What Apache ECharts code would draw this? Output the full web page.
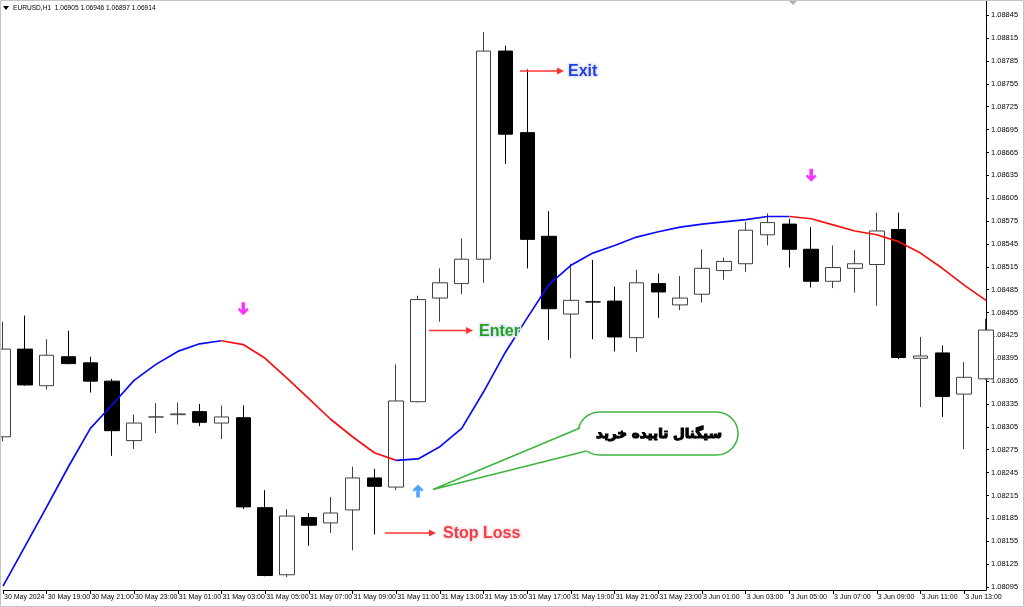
<!DOCTYPE html>
<html><head><meta charset="utf-8">
<script src="https://cdn.jsdelivr.net/npm/echarts@6/dist/echarts.min.js"></script>
<style>html,body{margin:0;padding:0;background:#fff}#c{width:1024px;height:607px}</style>
</head><body><div id="c"></div>
<script>
const categories = [
 '30 May 2024','30 May 18:00','30 May 19:00','30 May 20:00','30 May 21:00','30 May 22:00','30 May 23:00',
 '31 May 00:00','31 May 01:00','31 May 02:00','31 May 03:00','31 May 04:00','31 May 05:00','31 May 06:00',
 '31 May 07:00','31 May 08:00','31 May 09:00','31 May 10:00','31 May 11:00','31 May 12:00','31 May 13:00',
 '31 May 14:00','31 May 15:00','31 May 16:00','31 May 17:00','31 May 18:00','31 May 19:00','31 May 20:00',
 '31 May 21:00','31 May 22:00','31 May 23:00',
 '3 Jun 00:00','3 Jun 01:00','3 Jun 02:00','3 Jun 03:00','3 Jun 04:00','3 Jun 05:00','3 Jun 06:00',
 '3 Jun 07:00','3 Jun 08:00','3 Jun 09:00','3 Jun 10:00','3 Jun 11:00','3 Jun 12:00','3 Jun 13:00','3 Jun 14:00'
];
const opens  = [1.08292,1.08407,1.08359,1.08397,1.08389,1.08365,1.08287,1.08318,1.08321,1.08325,1.08310,1.08317,1.08199,1.08111,1.08186,1.08179,1.08196,1.08238,1.08226,1.08338,1.08474,1.08493,1.08525,1.08798,1.08691,1.08555,1.08453,1.08469,1.08470,1.08422,1.08493,1.08465,1.08479,1.08510,1.08519,1.08557,1.08571,1.08538,1.08496,1.08513,1.08518,1.08564,1.08395,1.08402,1.08348,1.08368];
const closes = [1.08407,1.08360,1.08399,1.08388,1.08365,1.08300,1.08310,1.08318,1.08322,1.08311,1.08318,1.08200,1.08110,1.08188,1.08176,1.08192,1.08238,1.08227,1.08339,1.08472,1.08494,1.08525,1.08798,1.08689,1.08551,1.08460,1.08471,1.08469,1.08423,1.08494,1.08482,1.08474,1.08513,1.08522,1.08563,1.08573,1.08538,1.08496,1.08514,1.08519,1.08562,1.08396,1.08398,1.08345,1.08370,1.08432];
const lows   = [1.08286,1.08359,1.08354,1.08387,1.08350,1.08267,1.08276,1.08297,1.08308,1.08306,1.08289,1.08197,1.08109,1.08108,1.08149,1.08166,1.08143,1.08164,1.08222,1.08337,1.08443,1.08479,1.08494,1.08650,1.08513,1.08419,1.08395,1.08420,1.08404,1.08403,1.08448,1.08458,1.08468,1.08498,1.08508,1.08543,1.08514,1.08488,1.08487,1.08481,1.08464,1.08394,1.08331,1.08318,1.08276,1.08367];
const highs  = [1.08443,1.08451,1.08420,1.08431,1.08397,1.08368,1.08321,1.08336,1.08337,1.08335,1.08333,1.08333,1.08222,1.08197,1.08192,1.08213,1.08253,1.08250,1.08387,1.08477,1.08513,1.08552,1.08823,1.08805,1.08774,1.08588,1.08519,1.08524,1.08489,1.08511,1.08506,1.08503,1.08538,1.08527,1.08574,1.08585,1.08578,1.08567,1.08543,1.08537,1.08586,1.08586,1.08423,1.08412,1.08390,1.08447];
const maValues = [1.08096,1.08148,1.08200,1.08253,1.08303,1.08334,1.08366,1.08387,1.08404,1.08414,1.08418,1.08413,1.08395,1.08369,1.08342,1.08315,1.08292,1.08271,1.08261,1.08263,1.08279,1.08303,1.08351,1.08403,1.08448,1.08492,1.08517,1.08533,1.08543,1.08554,1.08561,1.08567,1.08571,1.08574,1.08577,1.08581,1.08581,1.08578,1.08570,1.08562,1.08557,1.08548,1.08533,1.08513,1.08491,1.08471];
const maTurns = [0,10,18,36,45];
const maTrend = ['up','down','up','down'];
const buySignals  = [[19,1.08221]];
const sellSignals = [[11,1.08460],[37,1.08635]];
const yTicks = [1.08095,1.08125,1.08155,1.08185,1.08215,1.08245,1.08275,1.08305,1.08335,1.08365,1.08395,1.08425,1.08455,1.08485,1.08515,1.08545,1.08575,1.08605,1.08635,1.08665,1.08695,1.08725,1.08755,1.08785,1.08815,1.08845];
const titleText = 'EURUSD,H1  1.06905 1.06946 1.06897 1.06914';
const bubbleText = 'سیگنال تاییده خرید';

function segmentData(trend){
  return maValues.map((v,i)=>{
    for(let s=0;s<maTrend.length;s++){
      if(maTrend[s]===trend && i>=maTurns[s] && i<=maTurns[s+1]) return v;
    }
    return null;
  });
}
const candleData = categories.map((_,i)=>[opens[i],closes[i],lows[i],highs[i]]);
const arrowPath = 'path://M3.7,0 L7.3,0 L7.3,7.5 L9.3,5.5 L11,7.3 L5.5,12.8 L0,7.3 L1.7,5.5 L3.7,7.5 Z';
const FONT = '"Liberation Sans", Arial, sans-serif';

const chart = echarts.init(document.getElementById('c'), null, {renderer:'canvas'});
chart.setOption({
  animation:false,
  backgroundColor:'#ffffff',
  grid:{left:3,right:38,top:0,bottom:17,containLabel:false,outerBoundsMode:'none'},
  xAxis:{
    type:'category', data:categories, boundaryGap:false,
    axisLine:{show:true,lineStyle:{color:'#000',width:1}},
    axisTick:{show:true,interval:1,length:4,lineStyle:{color:'#000'}},
    axisLabel:{interval:1,align:'left',fontSize:7,color:'#000',margin:4,padding:[0,0,0,1],fontFamily:FONT,hideOverlap:false},
    splitLine:{show:false}
  },
  yAxis:{
    type:'value', position:'right', min:1.08091, max:1.08865,
    axisLine:{show:true,lineStyle:{color:'#000',width:1}},
    axisTick:{show:true,length:3,customValues:yTicks,lineStyle:{color:'#000'}},
    axisLabel:{customValues:yTicks,fontSize:7.5,color:'#000',margin:5,fontFamily:FONT,formatter:v=>v.toFixed(5)},
    splitLine:{show:false}
  },
  series:[
    {type:'candlestick', data:candleData, barWidth:15, clip:true,
     itemStyle:{color:'#ffffff',color0:'#000000',borderColor:'#404040',borderColor0:'#000000',borderWidth:1}},
    {type:'line', data:segmentData('up'), showSymbol:false, connectNulls:false, z:4,
     lineStyle:{color:'#0a0af5',width:1.7}},
    {type:'line', data:segmentData('down'), showSymbol:false, connectNulls:false, z:4,
     lineStyle:{color:'#f51010',width:1.7}},
    {type:'scatter', data:sellSignals, symbol:arrowPath, symbolSize:[11,13], z:5,
     itemStyle:{color:'#ff00ff'}},
    {type:'scatter', data:buySignals, symbol:arrowPath, symbolSize:[11,13], symbolRotate:180, z:5,
     itemStyle:{color:'#1e8fff'}}
  ],
  graphic:[
    {type:'rect', silent:true, z:100, shape:{x:0.5,y:0.5,width:1023,height:606}, style:{fill:null,stroke:'#c4c4c4',lineWidth:1}},
    {type:'polygon', z:100, shape:{points:[[3,6],[9,6],[6,10]]}, style:{fill:'#000'}},
    {type:'text', z:100, x:13, y:8, style:{text:titleText, font:'6.6px '+FONT, fill:'#000', verticalAlign:'middle'}},
    {type:'polygon', z:100, shape:{points:[[789,1],[797,1],[793,5]]}, style:{fill:'#b0b0b0'}},
    // Exit
    {type:'line', z:100, shape:{x1:520,y1:71,x2:558,y2:71}, style:{stroke:'#ff3535',lineWidth:1.6}},
    {type:'polygon', z:100, shape:{points:[[557,67.5],[564,71],[557,74.5]]}, style:{fill:'#ff3535'}},
    {type:'text', z:99, x:568, y:72, style:{text:'Exit', font:'bold 16px '+FONT, fill:null, stroke:'#e6e8fb', lineWidth:3, verticalAlign:'middle'}},
    {type:'text', z:100, x:568, y:72, style:{text:'Exit', font:'bold 16px '+FONT, fill:'#1f3ee6', verticalAlign:'middle'}},
    // Enter
    {type:'line', z:100, shape:{x1:429,y1:330.5,x2:467,y2:330.5}, style:{stroke:'#ff3535',lineWidth:1.6}},
    {type:'polygon', z:100, shape:{points:[[466,327],[473,330.5],[466,334]]}, style:{fill:'#ff3535'}},
    {type:'text', z:99, x:479, y:332, style:{text:'Enter', font:'bold 16px '+FONT, fill:null, stroke:'#e6e8fb', lineWidth:3, verticalAlign:'middle'}},
    {type:'text', z:100, x:479, y:332, style:{text:'Enter', font:'bold 16px '+FONT, fill:'#22a022', verticalAlign:'middle'}},
    // Stop Loss
    {type:'line', z:100, shape:{x1:385,y1:533,x2:430,y2:533}, style:{stroke:'#ff3535',lineWidth:1.6}},
    {type:'polygon', z:100, shape:{points:[[429,529.5],[436,533],[429,536.5]]}, style:{fill:'#ff3535'}},
    {type:'text', z:99, x:443, y:534, style:{text:'Stop Loss', font:'bold 16px '+FONT, fill:null, stroke:'#f5e6ea', lineWidth:3, verticalAlign:'middle'}},
    {type:'text', z:100, x:443, y:534, style:{text:'Stop Loss', font:'bold 16px '+FONT, fill:'#f03c44', verticalAlign:'middle'}},
    // bubble
    {type:'rect', z:100, shape:{x:578,y:412,width:160,height:43,r:21.5}, style:{fill:'#fff',stroke:'#3cb43c',lineWidth:1.5}},
    {type:'polygon', z:101, shape:{points:[[584.4,426.2],[433,489.5],[591.1,449.8]]}, style:{fill:'#fff'}},
    {type:'polyline', z:102, shape:{points:[[580,428],[433,489.5],[586.5,451]]}, style:{stroke:'#3cb43c',lineWidth:1.5,fill:null}},
    {type:'text', z:103, x:659, y:434, style:{text:bubbleText, font:'bold 13.5px "DejaVu Sans"', fill:'#000', stroke:'#000', lineWidth:1.1, align:'center', verticalAlign:'middle'}}
  ]
});
</script></body></html>
